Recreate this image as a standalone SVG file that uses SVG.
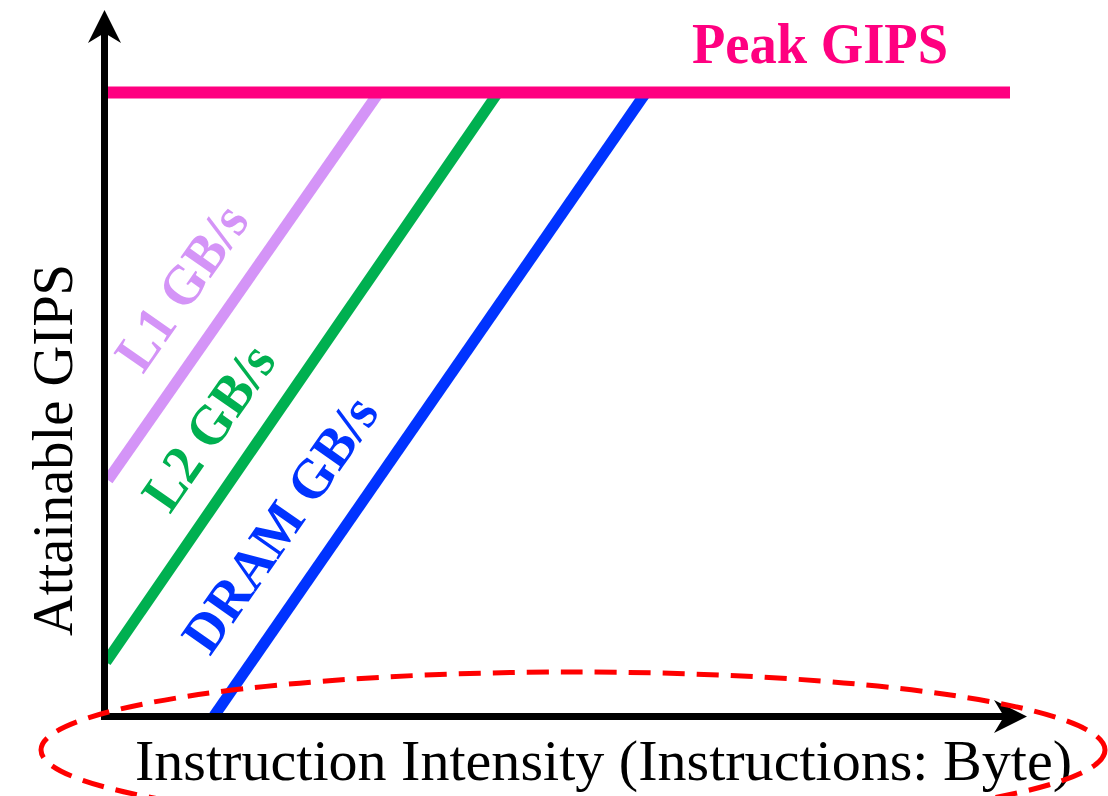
<svg xmlns="http://www.w3.org/2000/svg" width="1108" height="796" viewBox="0 0 1108 796">
<style>
.ax{stroke:#000;stroke-width:7;fill:none}
.head{fill:#000;stroke:none}
.roof{stroke-width:11;fill:none;stroke-linecap:butt}
.lbl{font-family:"Liberation Serif",serif;font-weight:bold;font-size:56px}
.axt{font-family:"Liberation Serif",serif;font-size:58px;fill:#000}
</style>
<rect width="1108" height="796" fill="#fff"/>
<g id="connectors">
<line class="roof" x1="108" y1="480" x2="380" y2="91" stroke="#D494F7"/>
<line class="roof" x1="106" y1="662" x2="499" y2="91" stroke="#00B050"/>
<line class="roof" x1="214" y1="716" x2="647" y2="91" stroke="#0033FF"/>
<line x1="106" y1="92.5" x2="1010" y2="92.5" stroke="#FF0080" stroke-width="12"/>
<line class="ax" x1="104.5" y1="720" x2="104.5" y2="30"/>
<line class="ax" x1="101" y1="716.5" x2="1008" y2="716.5"/>
<path class="head" d="M104.5,10 L121,43 L104.5,33 L88,43 Z"/>
<path class="head" d="M1027,716.5 L994,733 L1004,716.5 L994,700 Z"/>
</g>
<g id="peak-label">
<text class="lbl" x="692" y="63" fill="#FF0080" textLength="256" lengthAdjust="spacingAndGlyphs">Peak GIPS</text>
</g>
<g id="l1-label">
<text class="lbl" fill="#D494F7" transform="translate(143,375) rotate(-55.1)" textLength="188" lengthAdjust="spacingAndGlyphs">L1 GB/s</text>
</g>
<g id="l2-label">
<text class="lbl" fill="#00B050" transform="translate(170,515) rotate(-55.1)" textLength="188" lengthAdjust="spacingAndGlyphs">L2 GB/s</text>
</g>
<g id="dram-label">
<text class="lbl" fill="#0033FF" transform="translate(210,657) rotate(-55.1)" textLength="298" lengthAdjust="spacingAndGlyphs">DRAM GB/s</text>
</g>
<g id="y-axis-label">
<text class="axt" text-anchor="middle" transform="translate(72,450) rotate(-90)" textLength="372" lengthAdjust="spacingAndGlyphs">Attainable GIPS</text>
</g>
<g id="x-axis-label">
<text class="axt" x="135" y="780" textLength="937" lengthAdjust="spacingAndGlyphs">Instruction Intensity (Instructions: Byte)</text>
</g>
<g id="highlight">
<ellipse cx="573" cy="750" rx="532" ry="78" fill="none" stroke="#FF0000" stroke-width="5" stroke-dasharray="22 12"/>
</g>
</svg>
